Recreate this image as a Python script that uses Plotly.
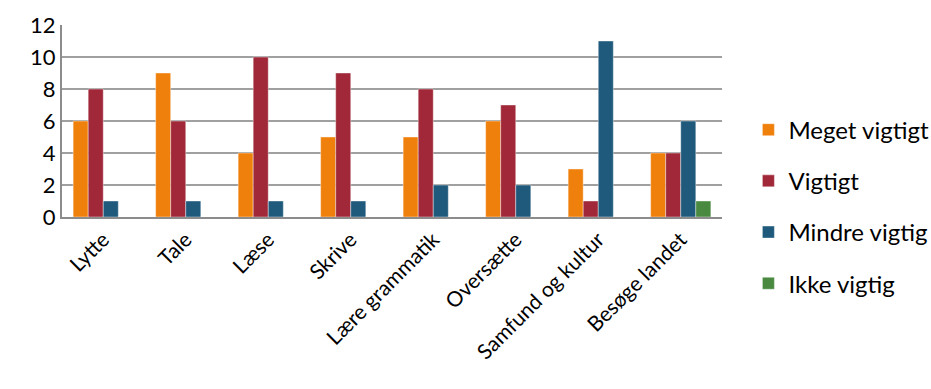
import plotly.graph_objects as go

categories = ["Lytte", "Tale", "Læse", "Skrive", "Lære grammatik", "Oversætte", "Samfund og kultur", "Besøge landet"]
meget_vigtigt = [6, 9, 4, 5, 5, 6, 3, 4]
vigtigt = [8, 6, 10, 9, 8, 7, 1, 4]
mindre_vigtig = [1, 1, 1, 1, 2, 2, 11, 6]
ikke_vigtig = [0, 0, 0, 0, 0, 0, 0, 1]

series = [
    ("Meget vigtigt", meget_vigtigt, "#F0800C"),
    ("Vigtigt", vigtigt, "#A02838"),
    ("Mindre vigtig", mindre_vigtig, "#1F5A7C"),
    ("Ikke vigtig", ikke_vigtig, "#4A8A40"),
]

font = "Lato, sans-serif"

fig = go.Figure()
for i, (name, vals, col) in enumerate(series):
    fig.add_trace(go.Bar(
        x=categories, y=vals, name=name, legendgroup=f"g{i}",
        marker=dict(color=col, line=dict(color="rgba(255,255,255,0.5)", width=0.8)),
    ))

fig.update_layout(
    width=931, height=389,
    margin=dict(l=62, r=209, t=25, b=172, autoexpand=False),
    paper_bgcolor="white", plot_bgcolor="white",
    barmode="group", bargap=0.27, bargroupgap=0,
    font=dict(family=font, size=21, color="black"),
    showlegend=True,
    legend=dict(x=1.04, xanchor="left", y=0.57, yanchor="top",
                font=dict(size=24), traceorder="grouped", tracegroupgap=17,
                itemwidth=30, maxheight=1),
    xaxis=dict(tickangle=-45, showline=True, linecolor="#8C8C8C", linewidth=2,
               ticks="", tickfont=dict(size=21)),
    yaxis=dict(range=[0, 12], dtick=2, showgrid=True, gridcolor="#A0A0A0", gridwidth=2,
               showline=True, linecolor="#8C8C8C", linewidth=2, ticks="",
               zeroline=False, tickfont=dict(size=22)),
)

fig.write_html("out.html")
